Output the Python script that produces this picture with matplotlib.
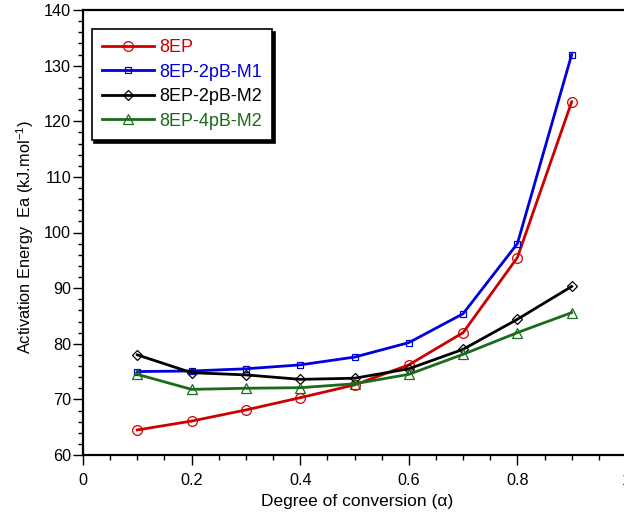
import matplotlib
matplotlib.use("Agg")
import matplotlib.pyplot as plt
from matplotlib.ticker import MultipleLocator, FuncFormatter

plt.rcParams['font.family'] = ['Liberation Sans', 'DejaVu Sans']
plt.rcParams['mathtext.fontset'] = 'custom'
plt.rcParams['mathtext.rm'] = 'Liberation Sans'
plt.rcParams['mathtext.it'] = 'Liberation Sans'

alpha = [0.1, 0.2, 0.3, 0.4, 0.5, 0.6, 0.7, 0.8, 0.9]
ep8 = [64.5, 66.1, 68.1, 70.3, 72.6, 76.2, 82.0, 95.5, 123.5]
ep8_2pb_m1 = [75.0, 75.1, 75.5, 76.2, 77.6, 80.2, 85.4, 98.0, 132.0]
ep8_2pb_m2 = [78.0, 74.8, 74.4, 73.6, 73.8, 75.5, 79.0, 84.4, 90.3]
ep8_4pb_m2 = [74.5, 71.8, 72.0, 72.1, 72.8, 74.5, 78.1, 82.0, 85.6]
labels = ['8EP', '8EP-2pB-M1', '8EP-2pB-M2', '8EP-4pB-M2']

fig = plt.figure(figsize=(6.24, 5.21), dpi=100)
ax = fig.add_axes([83/624, 1-455/521, (626-83)/624, (455-10)/521])

series = [
    (ep8, '#CC0000', 'o', 7),
    (ep8_2pb_m1, '#0000DD', 's', 5),
    (ep8_2pb_m2, '#000000', 'D', 5),
    (ep8_4pb_m2, '#1A6B1A', '^', 7),
]
for (vals, col, mk, ms), lab in zip(series, labels):
    ax.plot(alpha, vals, color=col, lw=2.0, marker=mk, ms=ms,
            markerfacecolor='none', markeredgecolor=col, markeredgewidth=0.9,
            label=lab)

ax.set_xlim(0, 1)
ax.set_ylim(60, 140)
ax.xaxis.set_major_locator(MultipleLocator(0.2))
ax.xaxis.set_minor_locator(MultipleLocator(0.05))
ax.yaxis.set_major_locator(MultipleLocator(10))
ax.yaxis.set_minor_locator(MultipleLocator(2))
ax.xaxis.set_major_formatter(FuncFormatter(lambda v, p: f"{v:g}"))
ax.tick_params(which='major', direction='out', length=7, width=1, labelsize=11.7)
ax.tick_params(which='minor', direction='out', length=3.5, width=1)
ax.tick_params(axis='x', which='major', pad=6)
ax.tick_params(axis='y', which='major', pad=1.5)
for s in ['left', 'bottom', 'top', 'right']:
    ax.spines[s].set_linewidth(1.6)

ax.set_xlabel('Degree of conversion (α)', fontsize=12.5)
ax.set_ylabel(r'Activation Energy  Ea (kJ.mol$^{-1}$)', fontsize=11.8)
ax.xaxis.set_label_coords(0.505, -0.088)
ax.yaxis.set_label_coords(-0.087, 0.49)

leg = ax.legend(loc='upper left', bbox_to_anchor=(0.016, 0.957), borderaxespad=0,
                fontsize=13, numpoints=1, handlelength=2.9, handletextpad=0.3,
                labelspacing=0.42, borderpad=0.55, fancybox=False,
                shadow={'color': 'black', 'alpha': 1})
leg.get_frame().set_edgecolor('black')
leg.get_frame().set_linewidth(1.2)
for txt, (vals, col, mk, ms) in zip(leg.get_texts(), series):
    txt.set_color(col)

fig.savefig('out.png', dpi=100)
